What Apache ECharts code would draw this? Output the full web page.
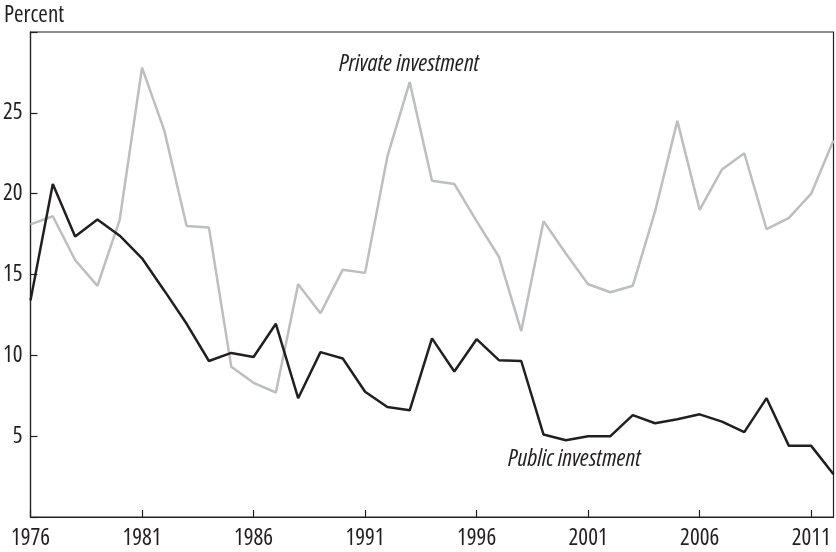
<!DOCTYPE html>
<html>
<head>
<meta charset="utf-8">
<script src="https://cdn.jsdelivr.net/npm/echarts@6/dist/echarts.min.js"></script>
<style>
html,body{margin:0;padding:0;background:#fff;}
#chart{width:836px;height:552px;}
</style>
</head>
<body>
<div id="chart"></div>
<script>
const years = ['1976','1977','1978','1979','1980','1981','1982','1983','1984','1985','1986','1987','1988','1989','1990','1991','1992','1993','1994','1995','1996','1997','1998','1999','2000','2001','2002','2003','2004','2005','2006','2007','2008','2009','2010','2011','2012'];
const privateInvestment = [18.1, 18.6, 15.9, 14.3, 18.4, 27.8, 23.9, 18.0, 17.9, 9.3, 8.3, 7.7, 14.4, 12.6, 15.3, 15.1, 22.3, 26.9, 20.8, 20.6, 18.3, 16.1, 11.5, 18.3, 16.3, 14.4, 13.9, 14.3, 18.9, 24.5, 19.0, 21.5, 22.5, 17.8, 18.5, 20.0, 23.3];
const publicInvestment = [13.4, 20.6, 17.35, 18.4, 17.4, 16.0, 14.0, 11.95, 9.65, 10.15, 9.9, 11.95, 7.35, 10.2, 9.8, 7.75, 6.8, 6.6, 11.05, 9.0, 11.0, 9.7, 9.65, 5.1, 4.75, 5.0, 5.0, 6.3, 5.8, 6.05, 6.35, 5.9, 5.25, 7.35, 4.4, 4.4, 2.65];
const yTickLabels = ['5', '10', '15', '20', '25'];
const seriesNames = ['Private investment', 'Public investment'];
const unitLabel = 'Percent';

const FAMILY = '"Open Sans", "Liberation Sans", sans-serif';
const INK = '#231f20';

const chart = echarts.init(document.getElementById('chart'), null, {renderer: 'canvas'});
chart.setOption({
  animation: false,
  backgroundColor: '#fff',
  grid: {left: 30.5, right: 2.5, top: 32, bottom: 35, show: true, borderColor: INK, borderWidth: 1.2,
         backgroundColor: 'transparent', containLabel: false, outerBoundsMode: 'none'},
  xAxis: {
    type: 'category',
    data: years,
    boundaryGap: false,
    axisLine: {lineStyle: {color: INK, width: 1.2}},
    axisTick: {inside: true, length: 7, interval: 4, lineStyle: {color: INK, width: 1.2}},
    axisLabel: {interval: 4, color: INK, fontFamily: FAMILY, fontWeight: 'condensed', fontSize: 23, margin: 10},
    splitLine: {show: false}
  },
  yAxis: {
    type: 'value',
    min: 0, max: 30, interval: 5,
    axisLine: {show: true, lineStyle: {color: INK, width: 1.2}},
    axisTick: {show: true, inside: true, length: 7, lineStyle: {color: INK, width: 1.2}},
    axisLabel: {color: INK, fontFamily: FAMILY, fontWeight: 'condensed', fontSize: 23, margin: 8,
      formatter: function (v) { return yTickLabels.indexOf(String(v)) >= 0 ? String(v) : ''; }},
    splitLine: {show: false}
  },
  series: [
    {name: seriesNames[0], type: 'line', data: privateInvestment, symbol: 'none',
     lineStyle: {color: '#bcbec0', width: 2.5}, z: 2},
    {name: seriesNames[1], type: 'line', data: publicInvestment, symbol: 'none',
     lineStyle: {color: INK, width: 2.5}, z: 3}
  ],
  graphic: [
    {type: 'text', x: 4, y: 15, style: {text: unitLabel, fill: INK, font: 'condensed 23px ' + FAMILY, verticalAlign: 'middle'}},
    {type: 'text', x: 339, y: 64, style: {text: seriesNames[0], fill: INK, font: 'italic condensed 24px ' + FAMILY, verticalAlign: 'middle'}},
    {type: 'text', x: 508, y: 459, style: {text: seriesNames[1], fill: INK, font: 'italic condensed 24px ' + FAMILY, verticalAlign: 'middle'}}
  ]
});
</script>
</body>
</html>
